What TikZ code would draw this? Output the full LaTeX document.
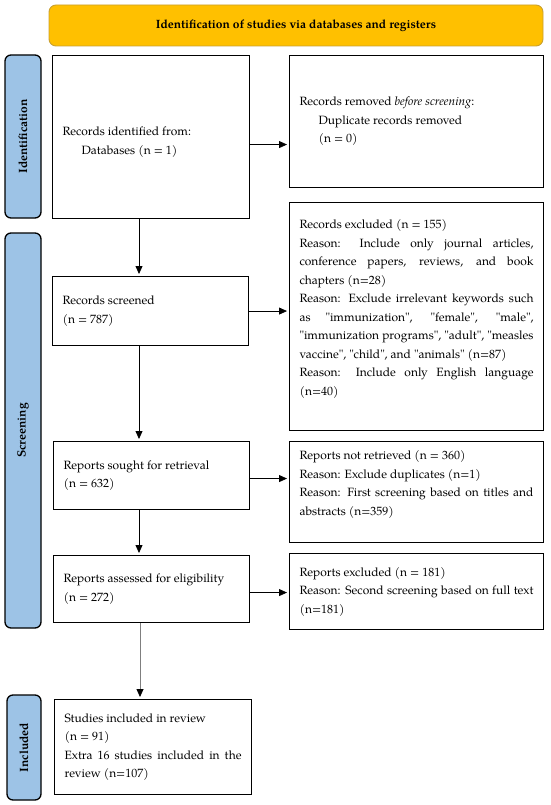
\documentclass[tikz,border=0pt]{standalone}
\usepackage{fontspec}
\setmainfont{TeX Gyre Pagella}
\usetikzlibrary{arrows.meta}
\definecolor{bannerfill}{HTML}{FFC000}
\definecolor{bannerline}{HTML}{C9A030}
\definecolor{sidefill}{HTML}{9DC3E6}
\definecolor{arrgray}{HTML}{7F7F7F}
\newcommand{\q}{\textquotedbl}
\begin{document}
\begin{tikzpicture}[x=1pt,y=1pt,
  box/.style={draw, line width=1.1pt, anchor=north west, inner xsep=10pt, inner ysep=0pt,
    align=justify, font=\fontsize{12}{18.5}\selectfont,
    execute at begin node={\hyphenpenalty=10000\relax\exhyphenpenalty=10000\relax}},
  side/.style={draw, line width=1.3pt, fill=sidefill, rounded corners=6pt, rotate=90,
    inner sep=0pt, font=\bfseries\fontsize{12}{14}\selectfont},
  arr/.style={line width=0.8pt, -{Triangle[length=8pt,width=7pt]}, shorten >=2pt}]
\useasboundingbox (0,0) rectangle (550,-805);

% banner
\node[draw=bannerline, line width=0.9pt, fill=bannerfill, rounded corners=7pt,
  minimum width=494, minimum height=41, font=\bfseries\fontsize{12}{14}\selectfont]
  (ban) at (296,-25.5) {Identification of studies via databases and registers};

% side labels
\node[side, minimum width=163, minimum height=36] (sid) at (23,-136.5) {Identification};
\node[side, minimum width=395, minimum height=36] (sscr) at (23,-430.5) {Screening};
\node[side, minimum width=105, minimum height=34] (sinc) at (24,-747.5) {Included};

% boxes
\node[box, minimum width=197, minimum height=163, text width=177] (idf) at (52,-55)
  {\mbox{}\\Records identified from:\\\hspace*{19pt}Databases (n = 1)};
\node[box, minimum width=254, minimum height=132, text width=234] (rem) at (289,-55)
  {Records removed \textit{before screening}:\\\hspace*{19pt}Duplicate records removed\\\hspace*{19pt}(n = 0)};
\node[box, minimum width=254, minimum height=228, text width=234] (exc) at (289,-202)
  {Records excluded (n = 155)\\
   Reason: Include only journal articles,\linebreak
   conference papers, reviews, and book\linebreak
   chapters (n=28)\\
   Reason: Exclude irrelevant keywords such\linebreak
   as \q immunization\q, \q female\q, \q male\q,\linebreak
   \q immunization programs\q, \q adult\q, \q measles\linebreak
   vaccine\q, \q child\q, and \q animals\q{} (n=87)\\
   Reason: Include only English language\linebreak
   (n=40)\\\mbox{}};
\node[box, minimum width=196, minimum height=69, text width=176] (scr) at (52,-276)
  {Records screened\\(n = 787)};
\node[box, minimum width=196, minimum height=68, text width=176] (sou) at (53,-441)
  {Reports sought for retrieval\\(n = 632)};
\node[box, minimum width=254, minimum height=101, text width=234] (nrt) at (289,-441)
  {Reports not retrieved (n = 360)\\
   Reason: Exclude duplicates (n=1)\\
   Reason: First screening based on titles and\linebreak
   abstracts (n=359)\\\mbox{}};
\node[box, minimum width=196, minimum height=67, text width=176] (ass) at (53,-555)
  {Reports assessed for eligibility\\(n = 272)};
\node[box, minimum width=254, minimum height=76, text width=234] (ex2) at (289,-553)
  {Reports excluded (n = 181)\\
   Reason: Second screening based on full text\linebreak
   (n=181)};
\node[box, minimum width=197, minimum height=95, text width=177] (inc) at (54,-699)
  {Studies included in review\\(n = 91)\\
   Extra 16 studies included in the\linebreak
   review (n=107)};

% connectors
\coordinate (vx) at (139,0);
\coordinate (vy) at (140,0);
\coordinate (a1) at ([yshift=-7.5pt]idf.east);
\draw[arr] (a1) -- (a1 -| rem.west);
\draw[arr] (idf.south -| vx) -- (scr.north -| vx);
\draw[arr] (scr.east) -- (scr.east -| exc.west);
\draw[arr] (scr.south -| vx) -- (sou.north -| vx);
\coordinate (a2) at ([yshift=-3pt]sou.east);
\draw[arr] (a2) -- (a2 -| nrt.west);
\draw[arr] (sou.south -| vx) -- (ass.north -| vx);
\coordinate (a3) at ([yshift=-3.5pt]ass.east);
\draw[arr] (a3) -- (a3 -| ex2.west);
\draw[line width=0.8pt, draw=arrgray, shorten >=2pt,
  -{Triangle[length=8pt,width=7pt,color=black]}] (ass.south -| vy) -- (inc.north -| vy);
\end{tikzpicture}
\end{document}
